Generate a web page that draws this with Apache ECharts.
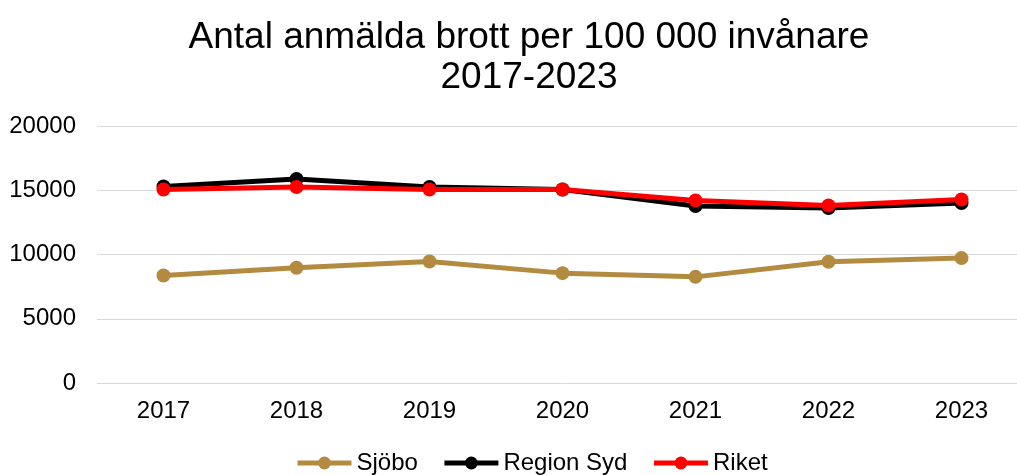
<!DOCTYPE html>
<html>
<head>
<meta charset="utf-8">
<script src="https://cdn.jsdelivr.net/npm/echarts@6/dist/echarts.min.js"></script>
<style>
  html, body { margin: 0; padding: 0; background: #fff; overflow: hidden; }
  /* plot area runs a little past the right edge of the window, as in the source */
  #chart { width: 1028px; height: 475px; }
</style>
</head>
<body>
<div id="chart"></div>
<script>
// data
var years = ['2017', '2018', '2019', '2020', '2021', '2022', '2023']
var sjobo = [8370, 8970, 9460, 8550, 8260, 9440, 9720]
var regionSyd = [15300, 15880, 15250, 15060, 13780, 13620, 14000]
var riket = [15060, 15250, 15060, 15060, 14210, 13820, 14280]
var yTicks = [0, 5000, 10000, 15000, 20000]

var font = 'Liberation Sans, Arial, sans-serif'

var chart = echarts.init(document.getElementById('chart'))

function lineSeries (name, data, color) {
  return {
    name: name,
    type: 'line',
    data: data,
    symbol: 'circle',
    symbolSize: 14,
    lineStyle: { width: 5, color: color },
    itemStyle: { color: color },
    emphasis: { disabled: true }
  }
}

chart.setOption({
  animation: false,
  title: {
    text: 'Antal anmälda brott per 100 000 invånare\n2017-2023',
    left: 524,
    textAlign: 'center',
    top: 13,
    textStyle: {
      fontFamily: font,
      fontSize: 37,
      fontWeight: 'normal',
      color: '#000',
      lineHeight: 40
    }
  },
  legend: {
    top: 446,
    left: 290,
    itemWidth: 54,
    itemHeight: 16,
    itemGap: 24,
    lineStyle: { width: 5 },
    textStyle: { fontFamily: font, fontSize: 24, color: '#000' },
    data: ['Sjöbo', 'Region Syd', 'Riket']
  },
  grid: {
    left: 97,
    right: 0,
    top: 126,
    bottom: 92,
    containLabel: false
  },
  xAxis: {
    type: 'category',
    data: years,
    boundaryGap: true,
    axisLine: { show: false },
    axisTick: { show: false },
    axisLabel: { fontFamily: font, fontSize: 24, color: '#000', margin: 16 }
  },
  yAxis: {
    type: 'value',
    min: yTicks[0],
    max: yTicks[yTicks.length - 1],
    interval: 5000,
    axisLine: { show: false },
    axisTick: { show: false },
    axisLabel: {
      fontFamily: font,
      fontSize: 24,
      color: '#000',
      margin: 21,
      formatter: function (v) { return String(v) }
    },
    splitLine: { lineStyle: { color: '#d9d9d9', width: 1 } }
  },
  series: [
    lineSeries('Sjöbo', sjobo, '#b38b40'),
    lineSeries('Region Syd', regionSyd, '#000000'),
    lineSeries('Riket', riket, '#ff0000')
  ]
})
</script>
</body>
</html>
